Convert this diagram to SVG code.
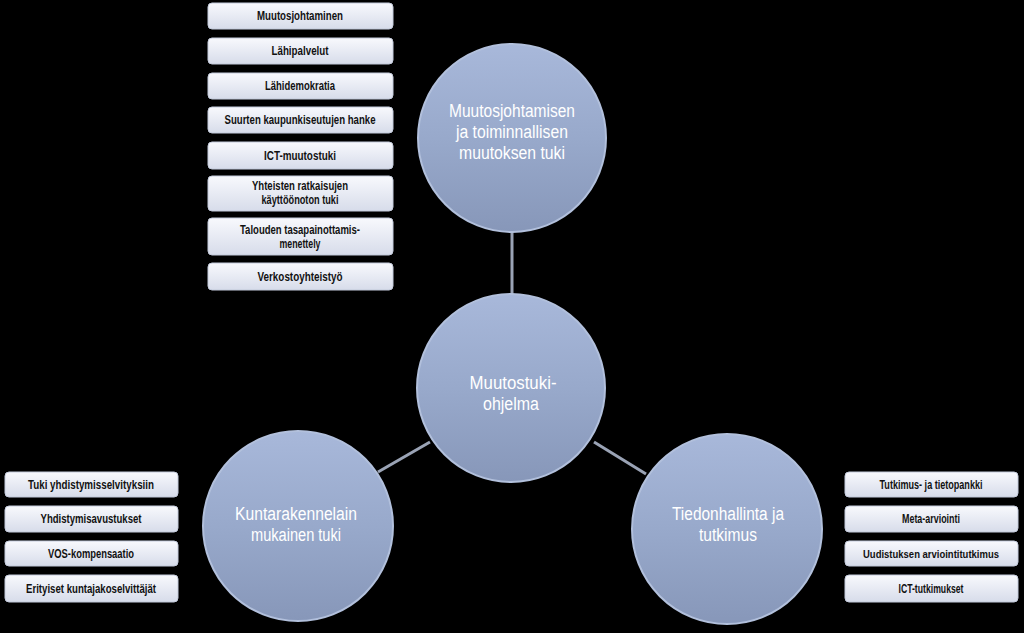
<svg xmlns="http://www.w3.org/2000/svg" width="1024" height="633" viewBox="0 0 1024 633">
<defs>
<linearGradient id="cg" x1="0" y1="0" x2="0" y2="1">
<stop offset="0" stop-color="#a8b8da"/>
<stop offset="0.5" stop-color="#98a9cb"/>
<stop offset="1" stop-color="#8797b9"/>
</linearGradient>
<linearGradient id="bg" x1="0" y1="0" x2="0" y2="1">
<stop offset="0" stop-color="#f8f9fd"/>
<stop offset="1" stop-color="#d7dcea"/>
</linearGradient>
</defs>
<style>
.c{fill:url(#cg);stroke:#b2c0dc;stroke-width:2}
.b{fill:url(#bg);stroke:#c3cadb;stroke-width:1}
.bt{font-family:"Liberation Sans",Arial,sans-serif;font-weight:bold;font-size:12px;fill:#111;text-anchor:middle}
.sm{font-size:11px}
.ct{font-family:"Liberation Sans",Arial,sans-serif;font-size:18px;fill:#fff;text-anchor:middle}
.ln{stroke:#9aa3b5;stroke-width:3;fill:none}
</style>
<rect width="1024" height="633" fill="#000"/>
<g id="connectors">
<line class="ln" x1="512" y1="230" x2="512" y2="296"/>
<line class="ln" x1="430" y1="442" x2="378" y2="472"/>
<line class="ln" x1="594" y1="442" x2="646" y2="474"/>
</g>
<g id="n-top">
<circle class="c" cx="512" cy="138" r="94"/>
<text class="ct" x="512" y="117" textLength="126" lengthAdjust="spacingAndGlyphs">Muutosjohtamisen</text>
<text class="ct" x="512" y="138" textLength="112" lengthAdjust="spacingAndGlyphs">ja toiminnallisen</text>
<text class="ct" x="512" y="159" textLength="106" lengthAdjust="spacingAndGlyphs">muutoksen tuki</text>
</g>
<g id="n-center">
<circle class="c" cx="511" cy="388" r="94"/>
<text class="ct" x="513" y="389" textLength="87" lengthAdjust="spacingAndGlyphs">Muutostuki-</text>
<text class="ct" x="511" y="410" textLength="56" lengthAdjust="spacingAndGlyphs">ohjelma</text>
</g>
<g id="n-left">
<circle class="c" cx="298" cy="526" r="95"/>
<text class="ct" x="296" y="520" textLength="122" lengthAdjust="spacingAndGlyphs">Kuntarakennelain</text>
<text class="ct" x="296" y="541" textLength="90" lengthAdjust="spacingAndGlyphs">mukainen tuki</text>
</g>
<g id="n-right">
<circle class="c" cx="727" cy="529" r="95"/>
<text class="ct" x="728" y="520" textLength="112" lengthAdjust="spacingAndGlyphs">Tiedonhallinta ja</text>
<text class="ct" x="728" y="541" textLength="58" lengthAdjust="spacingAndGlyphs">tutkimus</text>
</g>
<g id="box-muutosjohtaminen"><rect class="b" x="208" y="3" width="185" height="26" rx="4"/><text class="bt" x="300" y="20" textLength="86" lengthAdjust="spacingAndGlyphs">Muutosjohtaminen</text></g>
<g id="box-lahipalvelut"><rect class="b" x="208" y="38" width="185" height="26" rx="4"/><text class="bt" x="300" y="55" textLength="57" lengthAdjust="spacingAndGlyphs">Lähipalvelut</text></g>
<g id="box-lahidemokratia"><rect class="b" x="208" y="73" width="185" height="26" rx="4"/><text class="bt" x="300" y="90" textLength="70" lengthAdjust="spacingAndGlyphs">Lähidemokratia</text></g>
<g id="box-suurten"><rect class="b" x="208" y="107" width="185" height="26" rx="4"/><text class="bt" x="300" y="124" textLength="151" lengthAdjust="spacingAndGlyphs">Suurten kaupunkiseutujen hanke</text></g>
<g id="box-ict-muutostuki"><rect class="b" x="208" y="142" width="185" height="27" rx="4"/><text class="bt" x="300" y="160" textLength="72" lengthAdjust="spacingAndGlyphs">ICT-muutostuki</text></g>
<g id="box-yhteisten"><rect class="b" x="208" y="176" width="185" height="35" rx="4"/><text class="bt" x="300" y="190" textLength="96" lengthAdjust="spacingAndGlyphs">Yhteisten ratkaisujen</text><text class="bt" x="300" y="204" textLength="77" lengthAdjust="spacingAndGlyphs">käyttöönoton tuki</text></g>
<g id="box-talouden"><rect class="b" x="208" y="218" width="185" height="37" rx="4"/><text class="bt" x="300" y="234" textLength="120" lengthAdjust="spacingAndGlyphs">Talouden tasapainottamis-</text><text class="bt" x="300" y="248" textLength="41" lengthAdjust="spacingAndGlyphs">menettely</text></g>
<g id="box-verkostoyhteistyo"><rect class="b" x="208" y="263" width="185" height="27" rx="4"/><text class="bt" x="300" y="281" textLength="85" lengthAdjust="spacingAndGlyphs">Verkostoyhteistyö</text></g>
<g id="box-tuki"><rect class="b" x="5" y="472" width="173" height="25" rx="4"/><text class="bt" x="91" y="489" textLength="126" lengthAdjust="spacingAndGlyphs">Tuki yhdistymisselvityksiin</text></g>
<g id="box-yhdistymisavustukset"><rect class="b" x="5" y="506" width="173" height="26" rx="4"/><text class="bt" x="91" y="523" textLength="101" lengthAdjust="spacingAndGlyphs">Yhdistymisavustukset</text></g>
<g id="box-vos"><rect class="b" x="5" y="541" width="173" height="25" rx="4"/><text class="bt" x="91" y="558" textLength="86" lengthAdjust="spacingAndGlyphs">VOS-kompensaatio</text></g>
<g id="box-erityiset"><rect class="b" x="5" y="575" width="173" height="27" rx="4"/><text class="bt" x="91" y="593" textLength="130" lengthAdjust="spacingAndGlyphs">Erityiset kuntajakoselvittäjät</text></g>
<g id="box-tutkimus"><rect class="b" x="845" y="472" width="173" height="25" rx="4"/><text class="bt" x="931" y="489" textLength="103" lengthAdjust="spacingAndGlyphs">Tutkimus- ja tietopankki</text></g>
<g id="box-meta"><rect class="b" x="845" y="506" width="173" height="26" rx="4"/><text class="bt" x="931" y="523" textLength="58" lengthAdjust="spacingAndGlyphs">Meta-arviointi</text></g>
<g id="box-uudistuksen"><rect class="b" x="845" y="541" width="173" height="25" rx="4"/><text class="bt sm" x="931" y="558" textLength="136" lengthAdjust="spacingAndGlyphs">Uudistuksen arviointitutkimus</text></g>
<g id="box-ict-tutkimukset"><rect class="b" x="845" y="575" width="173" height="27" rx="4"/><text class="bt" x="931" y="593" textLength="65" lengthAdjust="spacingAndGlyphs">ICT-tutkimukset</text></g>
</svg>
